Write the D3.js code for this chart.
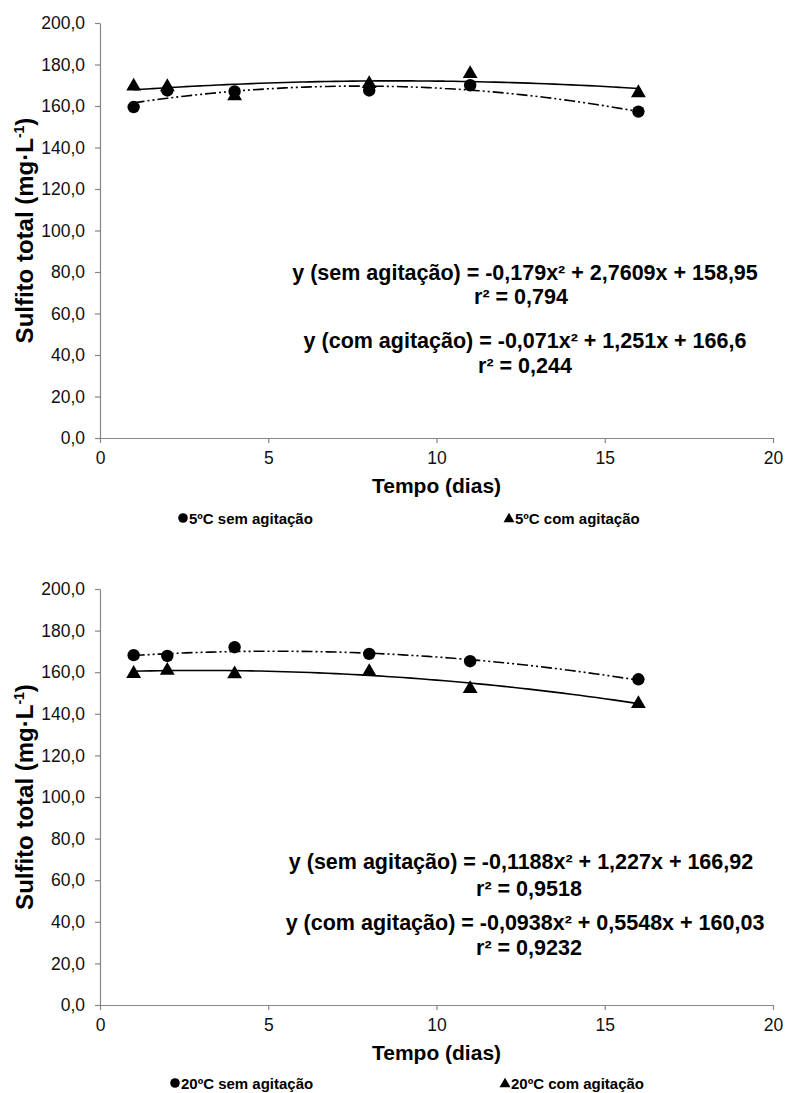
<!DOCTYPE html>
<html><head><meta charset="utf-8">
<script src="https://cdn.jsdelivr.net/npm/d3@7"></script>
<style>body{margin:0;background:#fff}svg{display:block;font-family:"Liberation Sans",Arial,sans-serif}</style>
</head><body><svg id="c" width="786" height="1093"></svg>
<script>
// ---- data ----
const days = [1, 2, 4, 8, 11, 16];
const sem5 = [159.5, 167.5, 167.0, 167.5, 170.0, 157.3];
const com5 = [170.0, 169.7, 165.3, 171.2, 176.0, 166.8];
const sem20 = [168.2, 167.8, 172.0, 168.8, 165.3, 156.6];
const com20 = [159.8, 161.3, 159.6, 160.7, 152.5, 145.3];
// polynomial trendline coefficients as printed on the chart (a, b, c)
const fitSem5 = [-0.179, 2.7609, 158.95];
const fitCom5 = [-0.071, 1.251, 166.6];
const fitSem20 = [-0.1188, 1.227, 166.92];
const fitCom20 = [-0.0938, 0.5548, 160.03];
const xTicks = [0, 5, 10, 15, 20];
const yTicks = [0, 20, 40, 60, 80, 100, 120, 140, 160, 180, 200];
const legend5 = ["5ºC sem agitação", "5ºC com agitação"];
const legend20 = ["20ºC sem agitação", "20ºC com agitação"];
const eq5 = ["y (sem agitação) = -0,179x² + 2,7609x + 158,95", "r² = 0,794",
             "y (com agitação) = -0,071x² + 1,251x + 166,6", "r² = 0,244"];
const eq20 = ["y (sem agitação) = -0,1188x² + 1,227x + 166,92", "r² = 0,9518",
              "y (com agitação) = -0,0938x² + 0,5548x + 160,03", "r² = 0,9232"];
const xTitle = "Tempo (dias)";

// ---- layout ----
const panels = [
  {top: 23, bottom: 438, sem: sem5, com: com5, fSem: fitSem5, fCom: fitCom5, leg: legend5, legX: [183, 509], legY: 518,
   eq: eq5, eqPos: [[525, 280], [521, 304], [525, 348], [525, 373]]},
  {top: 589, bottom: 1005, sem: sem20, com: com20, fSem: fitSem20, fCom: fitCom20, leg: legend20, legX: [175, 505], legY: 1083,
   eq: eq20, eqPos: [[521, 869], [529, 896], [525, 930], [529, 955]]}
];

const svg = d3.select("#c");
const axisCol = "#868686";

panels.forEach(p => {
  const x = d3.scaleLinear().domain([0, 20]).range([100, 773]);
  const y = d3.scaleLinear().domain([0, 200]).range([p.bottom, p.top]);
  const g = svg.append("g");

  const ya = g.append("g").attr("transform", "translate(100,0)")
    .call(d3.axisLeft(y).tickValues(yTicks).tickSize(5).tickSizeOuter(0).tickPadding(10)
      .tickFormat(d => d.toFixed(1).replace(".", ",")));
  const xa = g.append("g").attr("transform", `translate(0,${p.bottom})`)
    .call(d3.axisBottom(x).tickValues(xTicks).tickSize(5).tickSizeOuter(0).tickPadding(9)
      .tickFormat(d3.format("d")));
  [ya, xa].forEach(a => {
    a.select(".domain").attr("stroke", axisCol).attr("stroke-width", 1.2);
    a.selectAll(".tick line").attr("stroke", axisCol).attr("stroke-width", 1.2);
    a.selectAll(".tick text").attr("fill", "#111").style("font-size", "17.5px")
      .style("font-family", '"Liberation Sans",Arial,sans-serif');
  });

  // trendlines
  const xs = d3.range(1, 16.001, 0.25);
  const poly = c => xs.map(v => [v, c[0] * v * v + c[1] * v + c[2]]);
  const line = d3.line().x(d => x(d[0])).y(d => y(d[1])).curve(d3.curveMonotoneX);
  g.append("path").attr("d", line(poly(p.fCom))).attr("fill", "none")
    .attr("stroke", "#000").attr("stroke-width", 1.6);
  g.append("path").attr("d", line(poly(p.fSem))).attr("fill", "none")
    .attr("stroke", "#000").attr("stroke-width", 1.6).attr("stroke-dasharray", "11,3,2,3,2,3");

  // markers
  const pts = (arr) => days.map((d, i) => ({x: d, y: arr[i]}));
  g.selectAll(".tri").data(pts(p.com)).join("path")
    .attr("d", d3.symbol(d3.symbolTriangle).size(95))
    .attr("transform", d => `translate(${x(d.x)},${y(d.y) + 1})`).attr("fill", "#000");
  g.selectAll(".cir").data(pts(p.sem)).join("circle")
    .attr("cx", d => x(d.x)).attr("cy", d => y(d.y)).attr("r", 6.2).attr("fill", "#000");

  // axis titles
  const cy = (p.top + p.bottom) / 2;
  const yt = g.append("text").attr("transform", `translate(33,${cy}) rotate(-90)`)
    .attr("text-anchor", "middle").style("font-size", "24px").style("font-weight", "bold").attr("fill", "#000");
  yt.append("tspan").text("Sulfito total (mg·L");
  yt.append("tspan").text("-1").style("font-size", "14px").attr("dy", -9);
  yt.append("tspan").text(")").attr("dy", 9);

  g.append("text").attr("x", x(10)).attr("y", p.bottom + 55).attr("text-anchor", "middle")
    .style("font-size", "21px").style("font-weight", "bold").attr("fill", "#000").text(xTitle);

  // legend
  const ly = p.legY;
  p.leg.forEach((t, i) => {
    const lx = p.legX[i];
    if (i === 0) g.append("circle").attr("cx", lx).attr("cy", ly).attr("r", 4.8).attr("fill", "#000");
    else g.append("path").attr("d", d3.symbol(d3.symbolTriangle).size(52))
      .attr("transform", `translate(${lx},${ly + 1})`).attr("fill", "#000");
    g.append("text").attr("x", lx + 6).attr("y", ly + 5.5).style("font-size", "15px")
      .style("font-weight", "bold").attr("fill", "#000").text(t);
  });

  // equations
  p.eq.forEach((t, i) => {
    const [ex, ey] = p.eqPos[i];
    g.append("text").attr("x", ex).attr("y", ey).attr("text-anchor", "middle")
      .style("font-size", "21.5px").style("font-weight", "bold").attr("fill", "#000").text(t);
  });
});
</script></body></html>
